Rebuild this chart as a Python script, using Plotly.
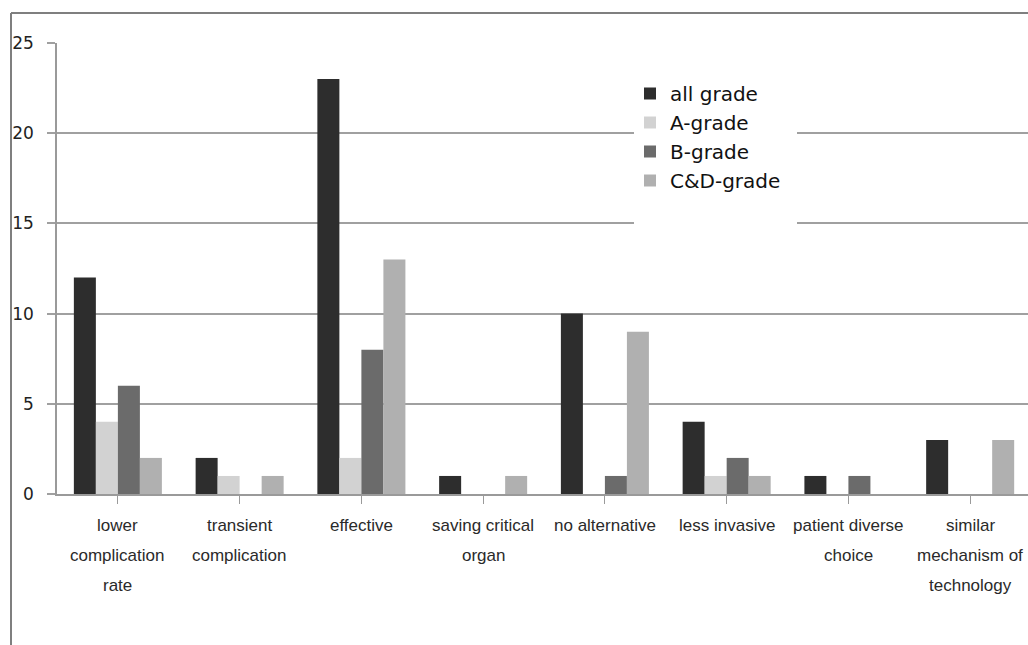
import plotly.graph_objects as go

categories = [
    "lower<br>complication<br>rate",
    "transient<br>complication",
    "effective",
    "saving critical<br>organ",
    "no alternative",
    "less invasive",
    "patient diverse<br>choice",
    "similar<br>mechanism of<br>technology",
]
all_grade = [12, 2, 23, 1, 10, 4, 1, 3]
a_grade = [4, 1, 2, 0, 0, 1, 0, 0]
b_grade = [6, 0, 8, 0, 1, 2, 1, 0]
cd_grade = [2, 1, 13, 1, 9, 1, 0, 3]

series = [
    ("all grade", all_grade, "#2d2d2d"),
    ("A-grade", a_grade, "#d2d2d2"),
    ("B-grade", b_grade, "#6b6b6b"),
    ("C&D-grade", cd_grade, "#b0b0b0"),
]

W, H = 1028, 645
ML, MR, MT, MB = 57, 0, 43, 151
pw = W - ML - MR
ph = H - MT - MB

idx = list(range(len(categories)))
fig = go.Figure()
for i, (name, vals, col) in enumerate(series):
    fig.add_trace(go.Bar(x=idx, y=vals, name=name, marker=dict(color=col, line=dict(width=0)),
                         legendgroup=str(i)))

def px_x(p):
    return (p - ML) / pw

def px_y(p):
    return (H - MB - p) / ph

shapes = [
    # outer frame
    dict(type="line", xref="paper", yref="paper", x0=px_x(11), x1=1.0, y0=px_y(13), y1=px_y(13),
         line=dict(color="#7f7f7f", width=2)),
    dict(type="line", xref="paper", yref="paper", x0=px_x(11), x1=px_x(11), y0=px_y(13), y1=px_y(H),
         line=dict(color="#7f7f7f", width=2)),
    # white backing behind legend
    dict(type="rect", xref="paper", yref="paper", x0=px_x(634), x1=px_x(797), y0=px_y(232), y1=px_y(66),
         fillcolor="white", line=dict(width=0), layer="above"),
]

annotations = []
for k, lab in enumerate(categories):
    for j, line in enumerate(lab.split("<br>")):
        annotations.append(dict(x=k, xref="x", y=0, yref="paper", yshift=-(31 + 30 * j),
                                text=line, showarrow=False, yanchor="middle", xanchor="center",
                                font=dict(family="Liberation Sans", size=17, color="#2a2a2a")))

fig.update_layout(
    width=W, height=H,
    margin=dict(l=ML, r=MR, t=MT, b=MB),
    paper_bgcolor="white", plot_bgcolor="white",
    barmode="group", bargap=0.277, bargroupgap=0,
    showlegend=True,
    legend=dict(x=px_x(630), y=px_y(74), xanchor="left", yanchor="top",
                bgcolor="rgba(0,0,0,0)", font=dict(family="DejaVu Sans", size=20, color="#111"),
                tracegroupgap=0, traceorder="normal"),
    shapes=shapes,
    annotations=annotations,
    font=dict(family="DejaVu Sans", color="#222"),
)
fig.update_xaxes(range=[-0.5, 7.475], showticklabels=False, showgrid=False,
                 showline=True, linecolor="#9a9a9a", linewidth=1.5,
                 ticks="outside", tickson="boundaries", ticklen=8, tickcolor="#9a9a9a",
                 tickvals=idx, fixedrange=True)
fig.update_yaxes(range=[0, 25], dtick=5, showgrid=True, gridcolor="#a0a0a0", gridwidth=1.5,
                 showline=True, linecolor="#9a9a9a", linewidth=1.5, zeroline=False,
                 ticks="outside", ticklen=8, tickcolor="#a0a0a0", tickwidth=1.5,
                 ticklabelstandoff=10,
                 tickfont=dict(family="DejaVu Sans", size=17, color="#222"))

fig.write_html("out.html", config={"displayModeBar": False},
               post_script="document.body.style.margin='0';document.body.style.overflow='hidden';")
